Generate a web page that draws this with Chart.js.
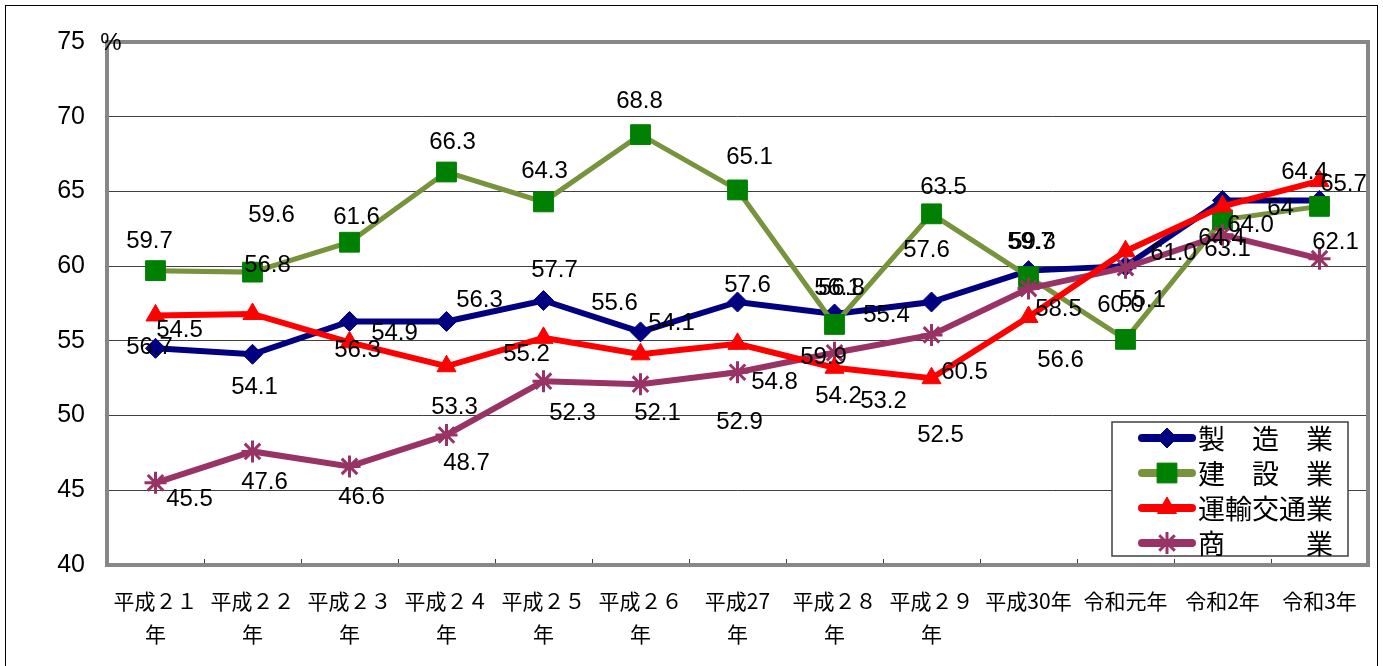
<!DOCTYPE html>
<html>
<head>
<meta charset="utf-8">
<script src="https://cdn.jsdelivr.net/npm/chart.js@4.4.1/dist/chart.umd.min.js"></script>
<style>
  html, body { margin: 0; padding: 0; background: #fff; }
  canvas { display: block; }
</style>
</head>
<body>
<canvas id="chart" width="1383" height="666"></canvas>
<script>
/* ---- データ ---- */
const categories = [
  ['平成２１', '年'], ['平成２２', '年'], ['平成２３', '年'], ['平成２４', '年'],
  ['平成２５', '年'], ['平成２６', '年'], ['平成27', '年'], ['平成２８', '年'],
  ['平成２９', '年'], '平成30年', '令和元年', '令和2年', '令和3年'
];
const seriesNames = ['製　造　業', '建　設　業', '運輸交通業', '商　　　業'];

const manufacturing = [54.5, 54.1, 56.3, 56.3, 57.7, 55.6, 57.6, 56.8, 57.6, 59.7, 60.0, 64.4, 64.4];
const construction  = [59.7, 59.6, 61.6, 66.3, 64.3, 68.8, 65.1, 56.1, 63.5, 59.3, 55.1, 63.1, 64.0];
const transport     = [56.7, 56.8, 54.9, 53.3, 55.2, 54.1, 54.8, 53.2, 52.5, 56.6, 61.0, 64.0, 65.7];
const commerce      = [45.5, 47.6, 46.6, 48.7, 52.3, 52.1, 52.9, 54.2, 55.4, 58.5, 59.9, 62.1, 60.5];

// データラベル（図に表示されている文字）
const manufacturingLabels = ['54.5', '54.1', '56.3', '56.3', '57.7', '55.6', '57.6', '56.8', '57.6', '59.7', '60.0', '64.4', '64.4'];
const constructionLabels  = ['59.7', '59.6', '61.6', '66.3', '64.3', '68.8', '65.1', '56.1', '63.5', '59.3', '55.1', '63.1', '64'];
const transportLabels     = ['56.7', '56.8', '54.9', '53.3', '55.2', '54.1', '54.8', '53.2', '52.5', '56.6', '61.0', '64.0', '65.7'];
const commerceLabels      = ['45.5', '47.6', '46.6', '48.7', '52.3', '52.1', '52.9', '54.2', '55.4', '58.5', '59.9', '60.5', '62.1'];

const yTicks = [40, 45, 50, 55, 60, 65, 70, 75];

/* ---- スタイル ---- */
// ラベル位置のずれ（px）
const labelOffsets = [
  [[24, -18], [2, 33], [8, 29], [33, -21], [11, -30], [-26, -29], [10, -17], [7, -26], [-5, -52], [2, -28], [-5, 39], [-1, 38], [-15, -28]],
  [[-6, -29], [19, -57], [7, -25], [6, -30], [1, -31], [-1, -33], [12, -33], [3, -36], [12, -26], [4, -34], [17, -39], [5, 30], [-39, 2]],
  [[-6, 32], [15, -49], [45, -9], [8, 41], [-17, 17], [31, -31], [37, 39], [49, 34], [9, 57], [32, 43], [48, 2], [28, 19], [24, 3]],
  [[34, 17], [12, 31], [12, 31], [20, 28], [29, 32], [17, 29], [2, 50], [4, 44], [-45, -20], [30, 21], [-302, 90], [-258, 138], [16, -16]]
];
const allLabels = [manufacturingLabels, constructionLabels, transportLabels, commerceLabels];

const LATIN = '"Liberation Sans", Arial, sans-serif';
const CJK = '"Noto Sans CJK JP", "Noto Sans", sans-serif';

/* ---- プラグイン ---- */
const framePlugin = {
  id: 'frame',
  beforeDraw(chart) {
    const ctx = chart.ctx;
    ctx.save();
    ctx.fillStyle = '#fff';
    ctx.fillRect(0, 0, chart.width, chart.height);
    ctx.strokeStyle = '#000';
    ctx.lineWidth = 1;
    ctx.strokeRect(5.5, 5.5, 1372, 700);
    ctx.restore();
  },
  beforeDatasetsDraw(chart) {
    const { ctx, chartArea: a, scales: { x } } = chart;
    ctx.save();
    // 内向きの目盛り
    ctx.strokeStyle = '#404040';
    ctx.lineWidth = 1;
    const band = (a.right - a.left) / categories.length;
    for (let i = 1; i < categories.length; i++) {
      const px = Math.round(x.getPixelForValue(i) - band / 2) + 0.5;
      ctx.beginPath();
      ctx.moveTo(px, a.bottom - 6);
      ctx.lineTo(px, a.bottom);
      ctx.stroke();
    }
    // プロットエリアの枠
    ctx.strokeStyle = '#878787';
    ctx.lineWidth = 4;
    ctx.strokeRect(a.left, a.top, a.right - a.left, a.bottom - a.top);
    // 単位
    ctx.fillStyle = '#000';
    ctx.font = '24px ' + LATIN;
    ctx.textAlign = 'center';
    ctx.textBaseline = 'middle';
    ctx.fillText('%', a.left + 4, a.top + 1);
    ctx.restore();
  }
};

const labelPlugin = {
  id: 'valueLabels',
  afterDatasetsDraw(chart) {
    const ctx = chart.ctx;
    ctx.save();
    ctx.fillStyle = '#000';
    ctx.font = '24px ' + LATIN;
    ctx.textAlign = 'center';
    ctx.textBaseline = 'middle';
    chart.data.datasets.forEach((ds, i) => {
      const meta = chart.getDatasetMeta(i);
      meta.data.forEach((pt, j) => {
        const [dx, dy] = labelOffsets[i][j];
        ctx.fillText(allLabels[i][j], pt.x + dx, pt.y + dy);
      });
    });
    ctx.restore();
  }
};

const legendPlugin = {
  id: 'boxLegend',
  afterDraw(chart) {
    const ctx = chart.ctx;
    const box = { x: 1112, y: 422, w: 236, h: 134 };
    ctx.save();
    ctx.fillStyle = '#fff';
    ctx.fillRect(box.x, box.y, box.w, box.h);
    ctx.strokeStyle = '#404040';
    ctx.lineWidth = 1.5;
    ctx.strokeRect(box.x, box.y, box.w, box.h);
    chart.data.datasets.forEach((ds, i) => {
      const cy = box.y + 16 + i * 35;
      ctx.strokeStyle = ds.borderColor;
      ctx.lineWidth = 8;
      ctx.lineCap = 'round';
      ctx.beginPath();
      ctx.moveTo(1142, cy);
      ctx.lineTo(1192, cy);
      ctx.stroke();
      ctx.lineCap = 'butt';
      ctx.fillStyle = ds.pointBackgroundColor;
      ctx.strokeStyle = ds.pointBorderColor;
      ctx.lineWidth = ds.pointBorderWidth;
      Chart.helpers.drawPoint(ctx, {
        pointStyle: ds.pointStyle,
        radius: ds.pointRadius,
        rotation: 0,
        borderWidth: ds.pointBorderWidth
      }, 1167, cy);
      ctx.fillStyle = '#000';
      ctx.font = '27px ' + CJK;
      ctx.textAlign = 'left';
      ctx.textBaseline = 'middle';
      ctx.fillText(ds.label, 1198, cy + 1);
    });
    ctx.restore();
  }
};

/* ---- グラフ ---- */
new Chart(document.getElementById('chart').getContext('2d'), {
  type: 'line',
  data: {
    labels: categories,
    datasets: [
      {
        label: seriesNames[0],
        data: manufacturing,
        borderColor: '#000080',
        borderWidth: 6,
        pointStyle: 'rectRot',
        pointRadius: 10,
        pointBackgroundColor: '#000080',
        pointBorderColor: '#000080',
        pointBorderWidth: 1,
        order: 3,
      },
      {
        label: seriesNames[1],
        data: construction,
        borderColor: '#77933C',
        borderWidth: 5,
        pointStyle: 'rect',
        pointRadius: 14,
        pointBackgroundColor: '#008000',
        pointBorderColor: '#008000',
        pointBorderWidth: 1,
        order: 2,
      },
      {
        label: seriesNames[2],
        data: transport,
        borderColor: '#FF0000',
        borderWidth: 6,
        pointStyle: 'triangle',
        pointRadius: 11,
        pointBackgroundColor: '#FF0000',
        pointBorderColor: '#FF0000',
        pointBorderWidth: 1,
        order: 0,
      },
      {
        label: seriesNames[3],
        data: commerce,
        borderColor: '#993366',
        borderWidth: 6,
        pointStyle: 'star',
        pointRadius: 11,
        pointBackgroundColor: '#993366',
        pointBorderColor: '#993366',
        pointBorderWidth: 3,
        order: 1,
      },
    ],
  },
  options: {
    responsive: false,
    animation: false,
    devicePixelRatio: 1,
    events: [],
    layout: { padding: { top: 42, right: 13, left: 0, bottom: 0 } },
    plugins: {
      legend: { display: false },
      tooltip: { enabled: false },
    },
    elements: { line: { tension: 0 } },
    scales: {
      x: {
        offset: true,
        grid: { display: false },
        border: { display: false },
        ticks: {
          color: '#000',
          font: { family: CJK, size: 21, lineHeight: 1.55 },
          padding: 12,
          maxRotation: 0,
          autoSkip: false,
        },
        afterFit: s => { s.height = 101; },
      },
      y: {
        min: yTicks[0],
        max: yTicks[yTicks.length - 1],
        grid: { color: '#404040', lineWidth: 1, drawTicks: false },
        border: { display: false },
        ticks: {
          stepSize: yTicks[1] - yTicks[0],
          color: '#000',
          font: { family: LATIN, size: 25 },
          padding: 22,
        },
        afterFit: s => { s.width = 107; },
      },
    },
  },
  plugins: [framePlugin, labelPlugin, legendPlugin],
});
</script>
</body>
</html>
